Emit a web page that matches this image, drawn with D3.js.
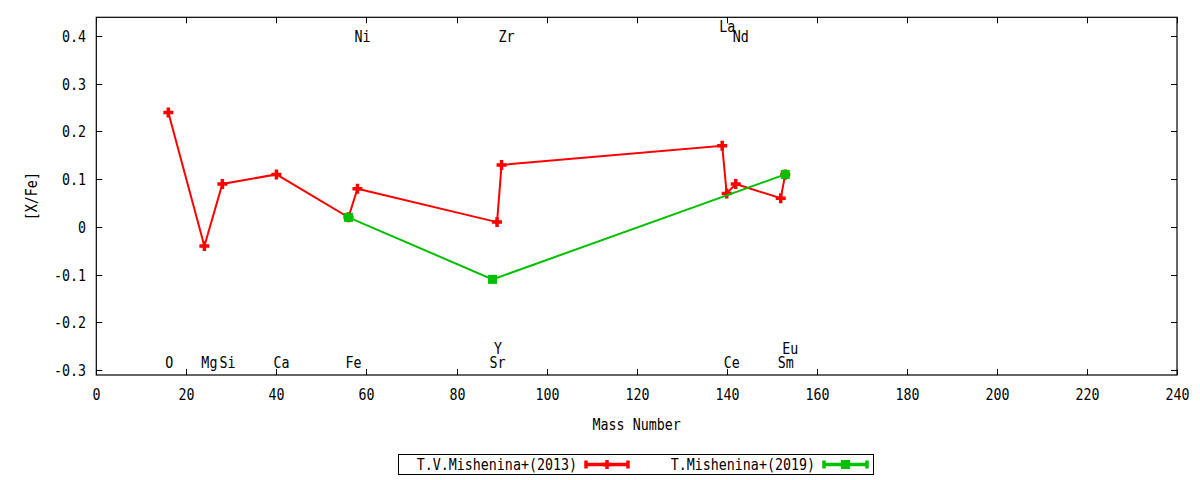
<!DOCTYPE html>
<html>
<head>
<meta charset="utf-8">
<script src="https://cdn.jsdelivr.net/npm/d3@7"></script>
<style>
  body { margin: 0; background: #fff; }
  text { font-family: "DejaVu Sans Mono", monospace; font-size: 15.5px; fill: #000; }
</style>
</head>
<body>
<script>
// chart size
var w = 1200;
var h = 480;

// T.V.Mishenina+(2013)
var massA = [16, 24, 28, 40, 56, 58, 89, 90, 139, 140, 142, 152, 153];
var valA  = [0.24, -0.04, 0.09, 0.11, 0.02, 0.08, 0.01, 0.13, 0.17, 0.07, 0.09, 0.06, 0.11];

// T.Mishenina+(2019)
var massB = [56, 88, 153];
var valB  = [0.02, -0.11, 0.11];

// element labels (mass, y in data units)
var elemNames = ["O", "Mg", "Si", "Ca", "Fe", "Ni", "Sr", "Y", "Zr", "La", "Ce", "Nd", "Sm", "Eu"];
var elemMass  = [16, 24, 28, 40, 56, 58, 88, 89, 90, 139, 140, 142, 152, 153];
var elemY     = [-0.285, -0.285, -0.285, -0.285, -0.285, 0.4, -0.285, -0.255, 0.4, 0.42, -0.285, 0.4, -0.285, -0.255];

var xTicks = d3.range(0, 241, 20);
var yTicks = [-0.3, -0.2, -0.1, 0, 0.1, 0.2, 0.3, 0.4];
var seriesNames = ["T.V.Mishenina+(2013)", "T.Mishenina+(2019)"];

var pL = 96.3, pR = 1177, pT = 17.3, pB = 375;
var sx = 0.86; // squeeze text horizontally

var x = d3.scaleLinear().domain([0, 240]).range([pL, pR]);
var y = d3.scaleLinear().domain([-0.3105, 0.4394]).range([pB, pT]);

var red = "#ff0000", green = "#00c000";

var svg = d3.select("body")
            .append("svg")
            .attr("width", w)
            .attr("height", h);

function txt(g, s, px, py, anchor, rot) {
  return g.append("text")
    .attr("transform", "translate(" + px + "," + py + ")" + (rot ? " rotate(" + rot + ")" : "") + " scale(" + sx + ",1)")
    .attr("text-anchor", anchor || "start")
    .text(s);
}

// ticks (inside, mirrored)
var tk = svg.append("g").attr("stroke", "#000").attr("stroke-width", 1);
xTicks.forEach(function(t) {
  var px = Math.round(x(t)) + 0.5;
  tk.append("line").attr("x1", px).attr("x2", px).attr("y1", pB).attr("y2", pB - 6);
  tk.append("line").attr("x1", px).attr("x2", px).attr("y1", pT).attr("y2", pT + 6);
  txt(svg, t, px, 400, "middle");
});
yTicks.forEach(function(t) {
  var py = Math.round(y(t)) + 0.5;
  tk.append("line").attr("x1", pL).attr("x2", pL + 6).attr("y1", py).attr("y2", py);
  tk.append("line").attr("x1", pR).attr("x2", pR - 6).attr("y1", py).attr("y2", py);
  txt(svg, String(+t.toFixed(1)), 86, py + 5.5, "end");
});

// frame
svg.append("rect")
   .attr("x", pL).attr("y", pT)
   .attr("width", pR - pL).attr("height", pB - pT)
   .attr("fill", "none").attr("stroke", "#000").attr("stroke-width", 1.2);

// axis titles
txt(svg, "Mass Number", (pL + pR) / 2, 430, "middle");
txt(svg, "[X/Fe]", 37, (pT + pB) / 2, "middle", -90);

// element labels
elemNames.forEach(function(n, i) {
  txt(svg, n, x(elemMass[i]) - 3, y(elemY[i]) + 5.5, "start");
});

var line = d3.line().x(function(d) { return x(d[0]); }).y(function(d) { return y(d[1]); });

function plusPath(cx, cy, r) {
  return "M" + (cx - r) + "," + cy + "H" + (cx + r) + "M" + cx + "," + (cy - r) + "V" + (cy + r);
}

// series A
var ptsA = massA.map(function(m, i) { return [m, valA[i]]; });
svg.append("path").datum(ptsA).attr("d", line)
   .attr("fill", "none").attr("stroke", red).attr("stroke-width", 2);
svg.selectAll(".pa").data(ptsA).enter().append("path")
   .attr("d", function(d) { return plusPath(x(d[0]), y(d[1]), 5); })
   .attr("stroke", red).attr("stroke-width", 3.5).attr("fill", "none");

// series B
var ptsB = massB.map(function(m, i) { return [m, valB[i]]; });
svg.append("path").datum(ptsB).attr("d", line)
   .attr("fill", "none").attr("stroke", green).attr("stroke-width", 2);
svg.selectAll(".pb").data(ptsB).enter().append("rect")
   .attr("x", function(d) { return x(d[0]) - 4.5; })
   .attr("y", function(d) { return y(d[1]) - 4.5; })
   .attr("width", 9).attr("height", 9)
   .attr("fill", green);

// legend
var lg = svg.append("g");
lg.append("rect").attr("x", 398.5).attr("y", 454.5).attr("width", 475).attr("height", 20)
  .attr("fill", "none").attr("stroke", "#000").attr("stroke-width", 1);
var legItems = [
  { name: seriesNames[0], tx: 577, x0: 586, x1: 628, color: red, mark: "plus" },
  { name: seriesNames[1], tx: 815, x0: 824, x1: 867, color: green, mark: "box" }
];
legItems.forEach(function(it) {
  var ly = 464.5;
  txt(lg, it.name, it.tx, ly + 5.5, "end");
  lg.append("line").attr("x1", it.x0).attr("x2", it.x1).attr("y1", ly).attr("y2", ly)
    .attr("stroke", it.color).attr("stroke-width", 3.5);
  [it.x0, it.x1].forEach(function(cx) {
    lg.append("line").attr("x1", cx).attr("x2", cx).attr("y1", ly - 4).attr("y2", ly + 4)
      .attr("stroke", it.color).attr("stroke-width", 3.5);
  });
  var mx = (it.x0 + it.x1) / 2;
  if (it.mark === "plus") {
    lg.append("path").attr("d", plusPath(mx, ly, 4.5)).attr("stroke", it.color).attr("stroke-width", 3.5);
  } else {
    lg.append("rect").attr("x", mx - 4.5).attr("y", ly - 4.5).attr("width", 9).attr("height", 9).attr("fill", it.color);
  }
});
</script>
</body>
</html>
